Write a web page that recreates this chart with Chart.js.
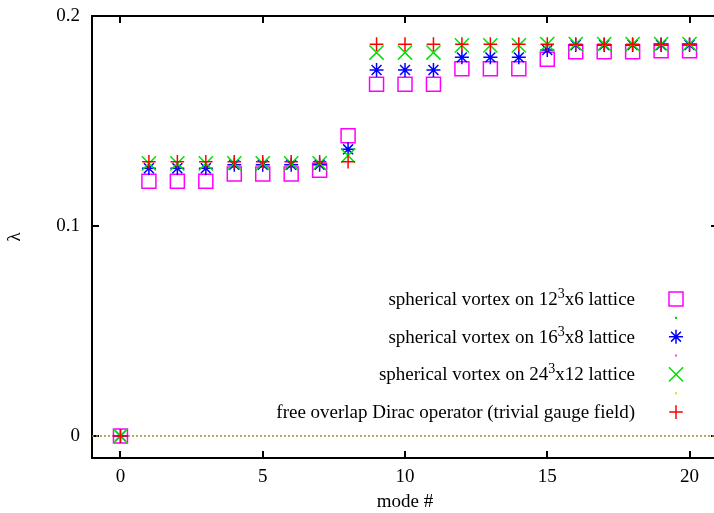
<!DOCTYPE html>
<html>
<head>
<meta charset="utf-8">
<script src="https://cdn.jsdelivr.net/npm/chart.js@4.4.1/dist/chart.umd.min.js"></script>
<style>
html,body{margin:0;padding:0;background:#fff;overflow:hidden;width:714px;height:513px;}
#wrap{width:718px;height:513px;}
</style>
</head>
<body>
<div id="wrap"><canvas id="c" width="718" height="513"></canvas></div>
<script>
// ---- data ----
const modes = [0,1,2,3,4,5,6,7,8,9,10,11,12,13,14,15,16,17,18,19,20];
const lattice12 = [0,0.1213,0.1213,0.1213,0.1248,0.1248,0.1248,0.1265,0.1430,0.1675,0.1675,0.1675,0.1749,0.1749,0.1749,0.1794,0.1830,0.1830,0.1830,0.1835,0.1835];
const lattice16 = [0,0.1275,0.1275,0.1275,0.1292,0.1292,0.1292,0.1292,0.1365,0.1743,0.1743,0.1743,0.1803,0.1803,0.1803,0.1838,0.1862,0.1862,0.1862,0.1862,0.1862];
const lattice24 = [0,0.1298,0.1298,0.1298,0.1298,0.1298,0.1298,0.1298,0.1335,0.1826,0.1826,0.1826,0.1860,0.1860,0.1860,0.1866,0.1866,0.1866,0.1866,0.1866,0.1866];
const freeOverlap = [0,0.1306,0.1306,0.1306,0.1306,0.1306,0.1306,0.1306,0.1306,0.1866,0.1866,0.1866,0.1866,0.1866,0.1866,0.1866,0.1866,0.1866,0.1866,0.1866,0.1866];
const zeroLine = [[-1,0],[21,0]];
const xTickValues = [0,5,10,15,20];
const yTickValues = [0,0.1,0.2];
const legendLabels = [
  "spherical vortex on 12^3x6 lattice",
  "",
  "spherical vortex on 16^3x8 lattice",
  "",
  "spherical vortex on 24^3x12 lattice",
  "",
  "free overlap Dirac operator (trivial gauge field)"
];
const xTitle = "mode #";
const yTitle = "λ";

// ---- styles ----
const FONT = "'Liberation Serif','Times New Roman',serif";
const FS = 19;
const styles = [
  {style:'rect', radius:9.9, color:'#ff00ff'},
  {style:'dot', color:'#00c000'},
  {style:'star', radius:7, color:'#0000ff'},
  {style:'dot', color:'#ff40ff'},
  {style:'crossRot', radius:10, color:'#00e000'},
  {style:'dot', color:'#e0e000'},
  {style:'cross', radius:6.8, color:'#ff0000'}
];

function pts(vals){ return modes.map((m,i)=>({x:m,y:vals[i]})); }
function ds(label, vals, st, order){
  return {label, data:pts(vals), showLine:false, pointStyle:st.style, pointRadius:st.radius,
    pointHoverRadius:st.radius, borderColor:st.color, backgroundColor:'rgba(0,0,0,0)',
    pointBorderWidth:1.5, borderWidth:1.5, order};
}

const framePlugin = {
  id:'frame',
  beforeDatasetsDraw(chart){
    const {ctx, chartArea:a, scales:{x,y}} = chart;
    ctx.save();
    ctx.strokeStyle='#000'; ctx.lineWidth=2;
    ctx.beginPath();
    ctx.moveTo(a.right, a.top); ctx.lineTo(a.left, a.top); ctx.lineTo(a.left, a.bottom); ctx.lineTo(a.right, a.bottom); ctx.lineTo(a.right, a.top);
    ctx.stroke();
    ctx.beginPath();
    xTickValues.forEach(v=>{ const px=Math.round(x.getPixelForValue(v));
      ctx.moveTo(px,a.bottom); ctx.lineTo(px,a.bottom-7);
      ctx.moveTo(px,a.top); ctx.lineTo(px,a.top+7); });
    yTickValues.forEach(v=>{ const py=Math.round(y.getPixelForValue(v));
      ctx.moveTo(a.left,py); ctx.lineTo(a.left+7,py);
      ctx.moveTo(a.right,py); ctx.lineTo(a.right-7,py); });
    ctx.stroke();
    ctx.restore();
  },
  afterDraw(chart){
    const ctx = chart.ctx;
    const textRight = 635, markX = 676, y0 = 299, dy = 18.85;
    ctx.save();
    legendLabels.forEach((lab,i)=>{
      const yy = y0 + i*dy;
      if(lab){
        const parts = [];
        const m = lab.match(/^(.*?)\^(\d)(.*)$/);
        if(m){ parts.push({t:m[1],s:FS,dy:0}); parts.push({t:m[2],s:14,dy:-7}); parts.push({t:m[3],s:FS,dy:0}); }
        else parts.push({t:lab,s:FS,dy:0});
        let w=0;
        parts.forEach(p=>{ ctx.font=p.s+'px '+FONT; p.w=ctx.measureText(p.t).width; w+=p.w; });
        let xx = textRight - w;
        ctx.fillStyle='#000'; ctx.textBaseline='alphabetic'; ctx.textAlign='left';
        parts.forEach(p=>{ ctx.font=p.s+'px '+FONT; ctx.fillText(p.t, xx, yy+6+p.dy); xx+=p.w; });
      }
      const st = styles[i];
      if(st.style==='dot'){
        ctx.fillStyle=st.color; ctx.fillRect(markX-1, yy-1, 2, 2);
      } else {
        ctx.strokeStyle=st.color; ctx.fillStyle='rgba(0,0,0,0)'; ctx.lineWidth=1.5;
        Chart.helpers.drawPoint(ctx, {pointStyle:st.style, radius:st.radius, rotation:0, borderWidth:1.5}, markX, yy);
      }
    });
    ctx.restore();
  }
};

new Chart(document.getElementById('c'), {
  type:'scatter',
  data:{datasets:[
    {label:'zero', data:zeroLine.map(p=>({x:p[0],y:p[1]})), showLine:true, pointRadius:0, borderColor:'#a8882a', borderWidth:1.5, borderDash:[2,2], order:10},
    ds(legendLabels[0], lattice12, styles[0], 4),
    ds(legendLabels[2], lattice16, styles[2], 3),
    ds(legendLabels[4], lattice24, styles[4], 2),
    ds(legendLabels[6], freeOverlap, styles[6], 1)
  ]},
  options:{
    responsive:false, animation:false, devicePixelRatio:1,
    layout:{autoPadding:false, padding:{top:16,right:0,bottom:0,left:0}},
    plugins:{legend:{display:false}, tooltip:{enabled:false}},
    scales:{
      x:{type:'linear', min:-1, max:21,
        afterBuildTicks(s){ s.ticks = xTickValues.map(v=>({value:v})); },
        afterFit(s){ s.height = 55; s.paddingLeft=0; s.paddingRight=0; },
        grid:{display:false, drawTicks:false}, border:{display:false},
        ticks:{padding:8, color:'#000', font:{family:FONT,size:FS}, maxRotation:0},
        title:{display:true, text:xTitle, color:'#000', font:{family:FONT,size:FS}, padding:{top:0,bottom:0}}
      },
      y:{type:'linear', min:-0.0105, max:0.2,
        afterBuildTicks(s){ s.ticks = yTickValues.map(v=>({value:v})); },
        afterFit(s){ s.width = 92; s.paddingTop=0; s.paddingBottom=0; },
        grid:{display:false, drawTicks:false}, border:{display:false},
        ticks:{padding:12, color:'#000', font:{family:FONT,size:FS}, callback:v=>String(v)},
        title:{display:true, text:yTitle, color:'#000', font:{family:FONT,size:FS}, padding:{top:4,bottom:0}}
      }
    }
  },
  plugins:[framePlugin]
});
</script>
</body>
</html>
